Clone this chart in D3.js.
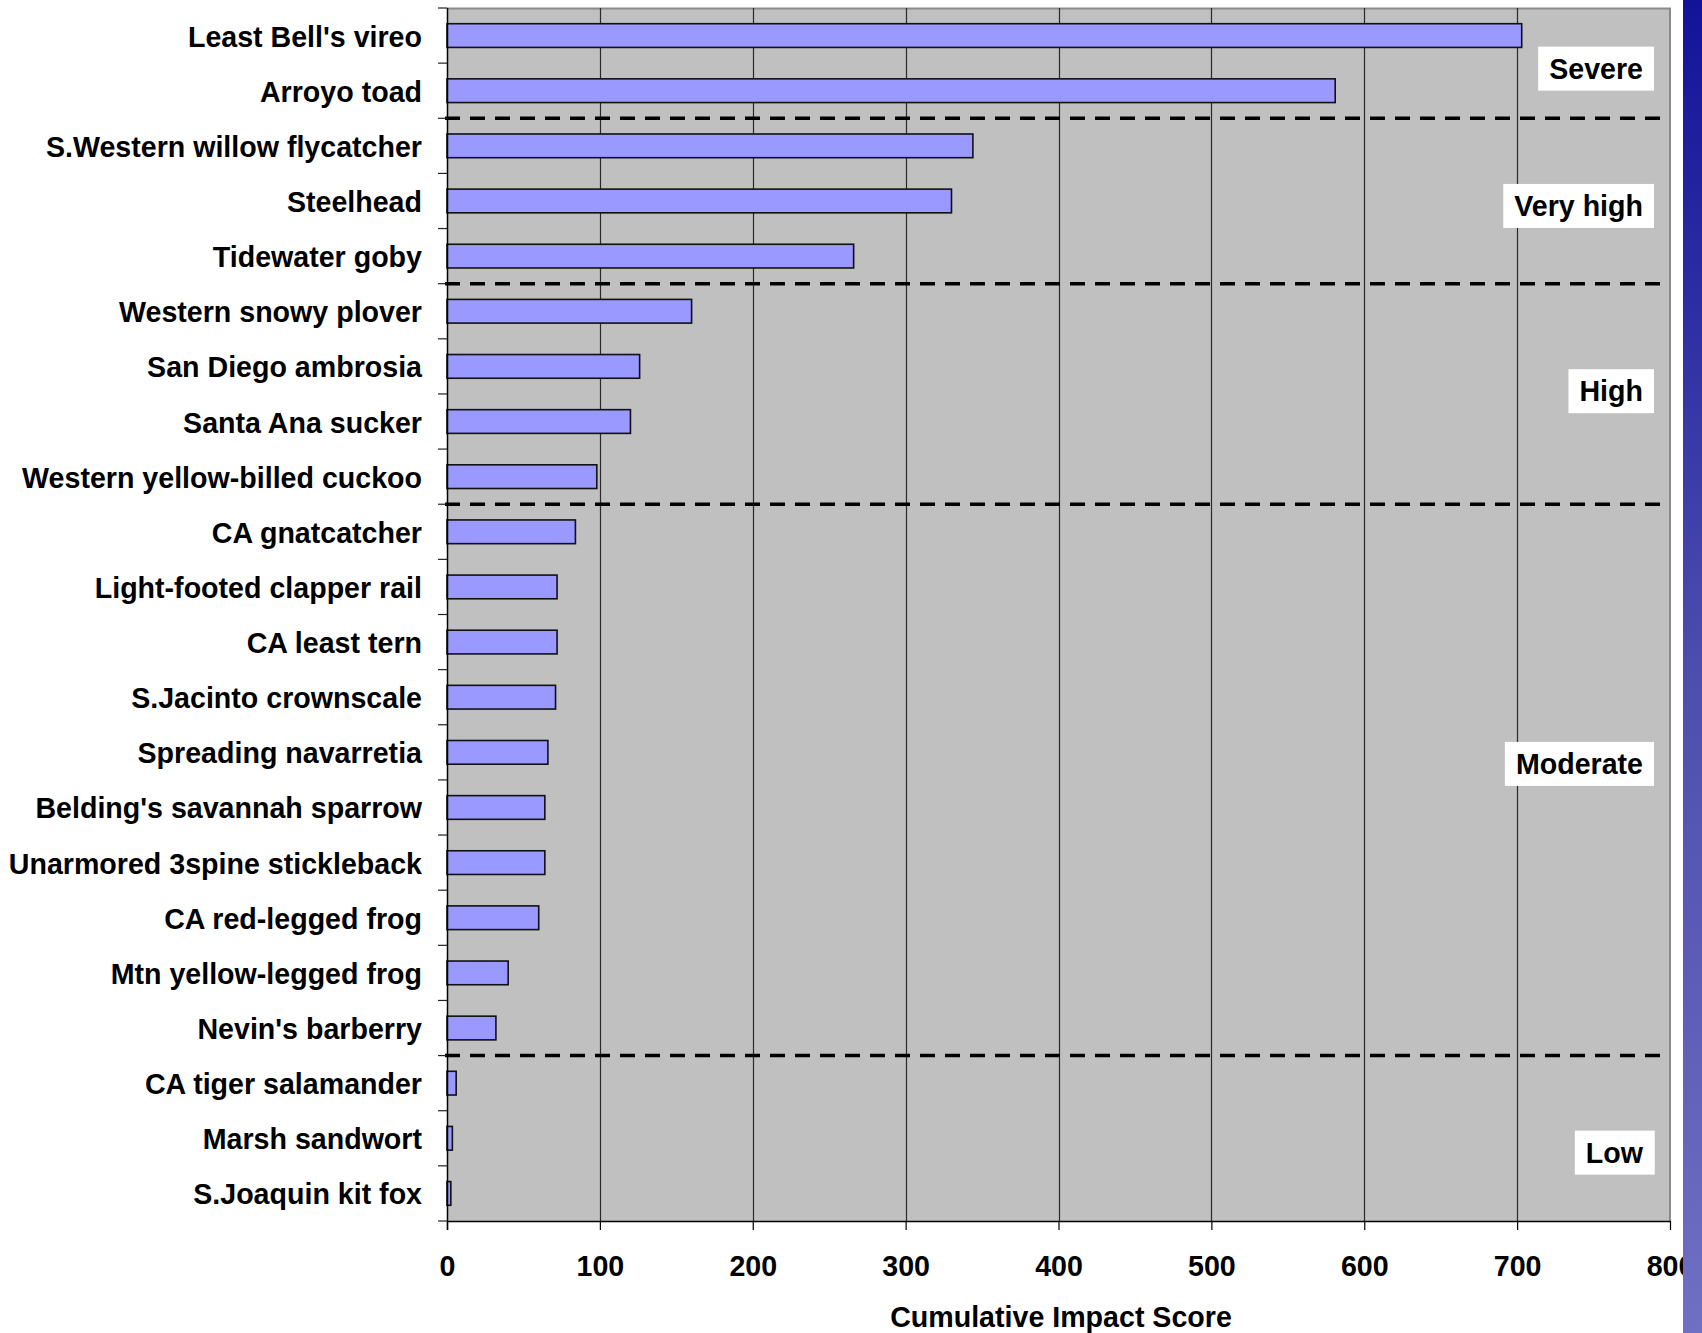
<!DOCTYPE html>
<html>
<head>
<meta charset="utf-8">
<script src="https://cdn.jsdelivr.net/npm/d3@7"></script>
<style>
  html, body { margin: 0; padding: 0; background: #fff; }
  svg { display: block; }
  text { font-family: "Liberation Sans", Arial, sans-serif; font-weight: bold; }
</style>
</head>
<body>
<svg id="chart" width="1702" height="1333"></svg>
<script>
// ---- data ----
const species = [
  "Least Bell's vireo", "Arroyo toad", "S.Western willow flycatcher", "Steelhead",
  "Tidewater goby", "Western snowy plover", "San Diego ambrosia", "Santa Ana sucker",
  "Western yellow-billed cuckoo", "CA gnatcatcher", "Light-footed clapper rail",
  "CA least tern", "S.Jacinto crownscale", "Spreading navarretia",
  "Belding's savannah sparrow", "Unarmored 3spine stickleback", "CA red-legged frog",
  "Mtn yellow-legged frog", "Nevin's barberry", "CA tiger salamander",
  "Marsh sandwort", "S.Joaquin kit fox"
];
const scores = [703, 581, 344, 330, 266, 160, 126, 120, 98, 84, 72, 72, 71, 66, 64, 64, 60, 40, 32, 6, 3.5, 2.5];
const xTicks = [0, 100, 200, 300, 400, 500, 600, 700, 800];
const zoneNames = ["Severe", "Very high", "High", "Moderate", "Low"];
const zoneBreaks = [2, 5, 9, 19]; // category index where next zone begins
const xTitle = "Cumulative Impact Score";

// ---- layout ----
const W = 1702, H = 1333;
const plot = { left: 447, right: 1670, top: 8, bottom: 1221 };
const zoneLabelAt = [1.10, 3.59, 6.95, 13.71, 20.76]; // in category steps from top
const fontSize = 28.6;

const svg = d3.select("#chart");

const x = d3.scaleLinear().domain([0, 800]).range([plot.left, plot.right]);
const y = d3.scaleBand().domain(species).range([plot.top, plot.bottom])
  .paddingInner(0.57).paddingOuter(0.285);
const step = y.step();
const yStart = plot.top; // outer padding equals half inner => slot boundaries at top + i*step

// plot background
svg.append("rect")
  .attr("x", plot.left).attr("y", plot.top)
  .attr("width", plot.right - plot.left).attr("height", plot.bottom - plot.top)
  .attr("fill", "#c0c0c0");

// top / right border
svg.append("path")
  .attr("d", `M${plot.left},${plot.top + 0.5}H${plot.right}V${plot.bottom}`)
  .attr("fill", "none").attr("stroke", "#8a8a8a").attr("stroke-width", 2);

// vertical gridlines
svg.append("g").selectAll("line").data(xTicks.filter(d => d > 0 && d < 800)).join("line")
  .attr("x1", d => Math.round(x(d)) + 0.5).attr("x2", d => Math.round(x(d)) + 0.5)
  .attr("y1", plot.top).attr("y2", plot.bottom)
  .attr("stroke", "#2a2a2a").attr("stroke-width", 1.2);

// bars
svg.append("g").selectAll("rect").data(species).join("rect")
  .attr("x", x(0))
  .attr("y", d => y(d))
  .attr("width", (d, i) => x(scores[i]) - x(0))
  .attr("height", y.bandwidth())
  .attr("fill", "#9999ff")
  .attr("stroke", "#111").attr("stroke-width", 1.6);

// zone divider dashed lines
svg.append("g").selectAll("line").data(zoneBreaks).join("line")
  .attr("x1", plot.left - 2).attr("x2", plot.right)
  .attr("y1", d => yStart + d * step).attr("y2", d => yStart + d * step)
  .attr("stroke", "#000").attr("stroke-width", 3.5)
  .attr("stroke-dasharray", "15,10");

// zone labels
const zg = svg.append("g").selectAll("g").data(zoneNames).join("g")
  .attr("transform", (d, i) => `translate(0,${yStart + zoneLabelAt[i] * step})`);
zg.each(function(d) {
  const g = d3.select(this);
  const t = g.append("text")
    .attr("x", 1643).attr("y", 10)
    .attr("text-anchor", "end")
    .attr("font-size", fontSize)
    .attr("fill", "#000")
    .text(d);
  const bb = t.node().getBBox();
  g.insert("rect", "text")
    .attr("x", bb.x - 11).attr("y", -22)
    .attr("width", bb.width + 22).attr("height", 44)
    .attr("fill", "#fff");
});

// y axis (left)
const yAxis = svg.append("g");
yAxis.append("line")
  .attr("x1", plot.left + 0.5).attr("x2", plot.left + 0.5)
  .attr("y1", plot.top).attr("y2", plot.bottom + 9)
  .attr("stroke", "#000").attr("stroke-width", 1.5);
yAxis.selectAll("line.tick").data(d3.range(species.length + 1)).join("line")
  .attr("class", "tick")
  .attr("x1", plot.left - 9).attr("x2", plot.left)
  .attr("y1", i => yStart + i * step).attr("y2", i => yStart + i * step)
  .attr("stroke", "#222").attr("stroke-width", 1.2);
yAxis.selectAll("text").data(species).join("text")
  .attr("x", 422)
  .attr("y", d => y(d) + y.bandwidth() / 2 + 11)
  .attr("text-anchor", "end")
  .attr("font-size", fontSize)
  .attr("fill", "#000")
  .text(d => d);

// x axis (bottom)
const xAxisG = svg.append("g")
  .attr("transform", `translate(0,${plot.bottom})`)
  .call(d3.axisBottom(x).tickValues(xTicks).tickSize(9).tickPadding(27).tickFormat(d3.format("d")));
xAxisG.select(".domain").attr("stroke", "#000").attr("stroke-width", 1.5)
  .attr("d", `M${plot.left},0.5H${plot.right}`);
xAxisG.selectAll(".tick line").attr("stroke", "#000").attr("stroke-width", 1.2);
xAxisG.selectAll(".tick text")
  .attr("font-size", fontSize)
  .attr("font-family", "Liberation Sans, Arial, sans-serif")
  .attr("font-weight", "bold")
  .attr("fill", "#000")
  .attr("dy", null)
  .attr("y", 55);

// x axis title
svg.append("text")
  .attr("x", 1061).attr("y", 1327)
  .attr("text-anchor", "middle")
  .attr("font-size", fontSize)
  .attr("fill", "#000")
  .text(xTitle);

// decorative blue strip on the right
const grad = svg.append("defs").append("linearGradient")
  .attr("id", "strip").attr("x1", 0).attr("y1", 0).attr("x2", 0).attr("y2", 1);
grad.append("stop").attr("offset", 0).attr("stop-color", "#13139a");
grad.append("stop").attr("offset", 0.5).attr("stop-color", "#4d4dae");
grad.append("stop").attr("offset", 1).attr("stop-color", "#6f6fc3");
svg.append("rect")
  .attr("x", 1683).attr("y", 0).attr("width", W - 1683).attr("height", H)
  .attr("fill", "url(#strip)");
</script>
</body>
</html>
